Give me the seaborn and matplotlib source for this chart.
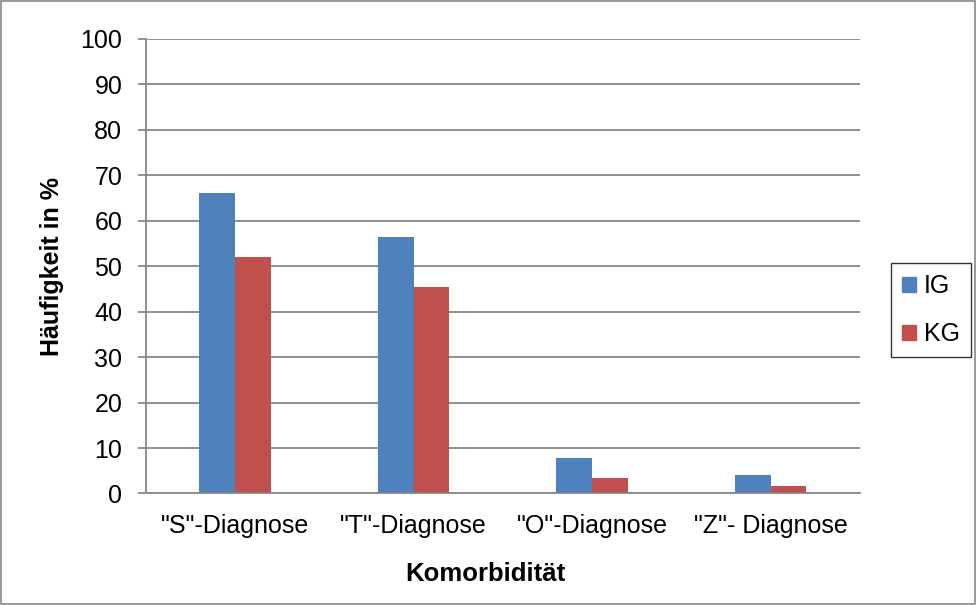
import pandas as pd
import seaborn as sns
import matplotlib.pyplot as plt
import matplotlib.patches as mpatches

# values
kategorien = ['"S"-Diagnose', '"T"-Diagnose', '"O"-Diagnose', '"Z"- Diagnose']
ig = [66.1, 56.4, 7.8, 4.1]
kg = [52.0, 45.3, 3.3, 1.6]
gruppen = ['IG', 'KG']
farben = ['#4F81BD', '#C0504D']

df = pd.DataFrame({
    'Komorbidität': kategorien * 2,
    'Wert': ig + kg,
    'Gruppe': ['IG'] * 4 + ['KG'] * 4,
})

sns.set_style('white')
plt.rcParams['font.family'] = ['Liberation Sans', 'DejaVu Sans']
plt.rcParams['text.color'] = 'black'
plt.rcParams['axes.labelcolor'] = 'black'

fig = plt.figure(figsize=(9.77, 6.05), dpi=100)
ax = fig.add_axes([0.1494, 0.1843, 0.7306, 0.7517])

sns.barplot(data=df, x='Komorbidität', y='Wert', hue='Gruppe',
            palette=farben, width=0.4, gap=0, ax=ax, legend=False,
            edgecolor='none', saturation=1)

ax.set_ylim(0, 100)
ax.set_yticks(range(0, 101, 10))
ax.set_xlim(-0.5, 3.5)
ax.yaxis.grid(True, color='#878787', linewidth=1.3)
ax.set_axisbelow(True)

for s in ['top', 'right']:
    ax.spines[s].set_visible(False)
for s in ['left', 'bottom']:
    ax.spines[s].set_color('#878787')
    ax.spines[s].set_linewidth(1.3)

ax.tick_params(axis='y', left=True, length=6, width=1.3, color='#878787',
               labelcolor='black', labelsize=18, pad=11)
ax.tick_params(axis='x', bottom=False, labelcolor='black', labelsize=18,
               pad=11)

ax.set_xlabel('Komorbidität', fontsize=18.5, fontweight='bold')
ax.xaxis.set_label_coords(0.475, -0.15)
ax.set_ylabel('Häufigkeit in %', fontsize=18, fontweight='bold', labelpad=12)

handles = [mpatches.Patch(color=c, label=g) for c, g in zip(farben, gruppen)]
leg = fig.legend(handles=handles, loc='center left',
                 bbox_to_anchor=(0.912, 0.487), fontsize=18,
                 frameon=True, fancybox=False, handlelength=0.55,
                 handleheight=0.55, handletextpad=0.3, labelspacing=0.95,
                 borderpad=0.45, borderaxespad=0)
leg.get_frame().set_edgecolor('black')
leg.get_frame().set_linewidth(1.0)

# outer border like the chart area frame
fig.patches.append(mpatches.Rectangle((0.001, 0.001), 0.997, 0.997,
                                      transform=fig.transFigure, fill=False,
                                      edgecolor='#878787', linewidth=1.2))

fig.savefig('out.png', dpi=100)
